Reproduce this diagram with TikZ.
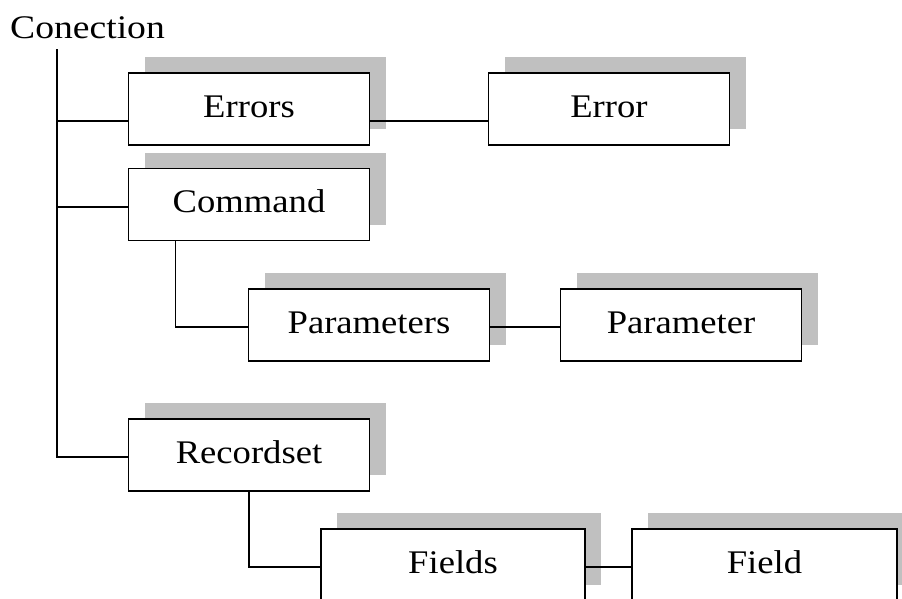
\documentclass[tikz,border=0pt]{standalone}
\usepackage{graphicx}
\usepackage{fontspec}
\setmainfont{Liberation Serif}
\usetikzlibrary{shadows}
\definecolor{shadowgray}{HTML}{C0C0C0}
\newcommand\widetxt[1]{\scalebox{1.11}[1]{#1}}
\tikzset{
  objbox/.style={draw=black, line width=1.8pt, fill=white,
    minimum width=241pt, minimum height=72pt, inner sep=0pt,
    text height=16pt, text depth=0pt,
    font=\fontsize{33}{38}\selectfont,
    general shadow={fill=shadowgray, draw=none, shadow xshift=16pt, shadow yshift=16pt}},
  conn/.style={draw=black, line width=1.7pt}
}
\begin{document}
\begin{tikzpicture}[x=1pt, y=-1pt]
\useasboundingbox (0,0) rectangle (902,598);
\clip (0,0) rectangle (902,598);

\node[anchor=base west, inner sep=0pt, font=\fontsize{33}{38}\selectfont] (conection) at (10,38) {\scalebox{1.14}[1]{Conection}};

\node[objbox] (errors) at (249,109) {\widetxt{Errors}};
\node[objbox] (error) at (609,109) {\widetxt{Error}};
\node[objbox] (command) at (249,204.5) {\widetxt{Command}};
\node[objbox] (params) at (369,325) {\widetxt{Parameters}};
\node[objbox] (param) at (681,325) {\widetxt{Parameter}};
\node[objbox] (recset) at (249,455) {\widetxt{Recordset}};
\node[objbox, minimum width=264pt] (fields) at (453,565) {\widetxt{Fields}};
\node[objbox, minimum width=265pt] (field) at (764.5,565) {\widetxt{Field}};

\coordinate (trunk) at (57,49);
\coordinate (errin) at ([yshift=-12pt]errors.west);
\coordinate (errout) at ([yshift=-12pt]errors.east);
\coordinate (errorin) at ([yshift=-12pt]error.west);
\coordinate (cmdin) at ([yshift=-2.5pt]command.west);

\draw[conn] (trunk) |- ([yshift=-2pt]recset.west);
\draw[conn] (trunk |- errin) -- (errin);
\draw[conn] (trunk |- cmdin) -- (cmdin);
\draw[conn] (errout) -- (errorin);
\draw[conn] ([xshift=48pt]command.south west) |- ([yshift=-2pt]params.west);
\draw[conn] ([yshift=-2pt]params.east) -- ([yshift=-2pt]param.west);
\draw[conn] (recset.south) |- ([yshift=-2pt]fields.west);
\draw[conn] ([yshift=-2pt]fields.east) -- ([yshift=-2pt]field.west);
\end{tikzpicture}
\end{document}
